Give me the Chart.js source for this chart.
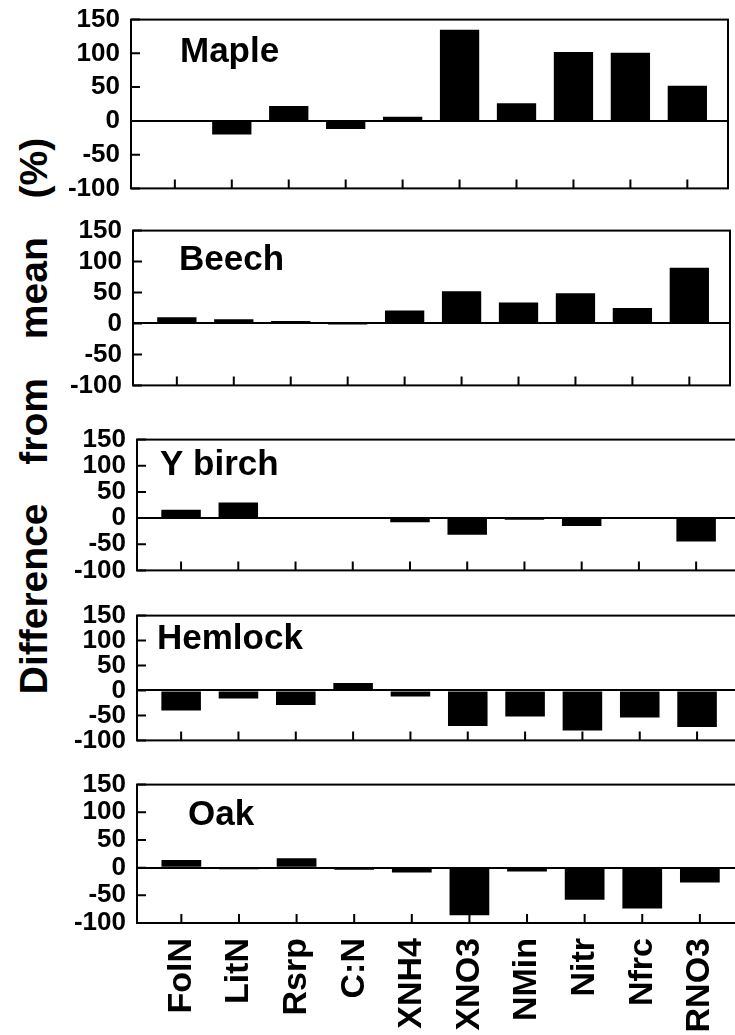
<!DOCTYPE html>
<html>
<head>
<meta charset="utf-8">
<title>Difference from mean (%)</title>
<script src="https://cdn.jsdelivr.net/npm/chart.js@4.4.1/dist/chart.umd.min.js"></script>
<style>
  html, body { margin: 0; padding: 0; background: #fff; }
  #figura { position: relative; width: 735px; height: 1035px; overflow: hidden; }
  #figura canvas { position: absolute; left: 0; }
  #titulo-y {
    position: absolute;
    left: 34px; top: 416px;
    transform: translate(-50%, -50%) rotate(-90deg);
    font: bold 39px "Liberation Sans", Arial, sans-serif;
    white-space: pre;
    word-spacing: 28px;
    color: #000;
  }
</style>
</head>
<body>
<div id="figura">
  <div id="titulo-y">Difference from mean (%)</div>
</div>
<script>
// valores (diferença em relação à média, %)
const categorias = ['FolN', 'LitN', 'Rsrp', 'C:N', 'XNH4', 'XNO3', 'NMin', 'Nitr', 'Nfrc', 'RNO3'];
const especies   = ['Maple', 'Beech', 'Y birch', 'Hemlock', 'Oak'];

const maple   = [0, -20, 22, -12, 6, 135, 26, 102, 101, 52];
const beech   = [10, 7, 4, -1, 21, 52, 34, 49, 25, 90];
const ybirch  = [16, 30, 2, 1, -8, -32, -3, -15, 0, -45];
const hemlock = [-40, -16, -29, 15, -12, -71, -52, -80, -54, -73];
const oak     = [14, -3, 17, -4, -9, -86, -7, -58, -74, -27];

const ticksY = [-100, -50, 0, 50, 100, 150];

const series = [maple, beech, ybirch, hemlock, oak];

// posição de cada painel na página (px); os três de baixo passam da borda direita
const paineis = [
  { topo: 17,  base: 209, esq: 131, larg: 597, nomeX: 180, nomeY: 62 },
  { topo: 228, base: 406, esq: 133, larg: 597, nomeX: 179, nomeY: 270 },
  { topo: 437, base: 591, esq: 137, larg: 600, nomeX: 160, nomeY: 475 },
  { topo: 613, base: 761, esq: 137, larg: 601, nomeX: 157, nomeY: 649 },
  { topo: 782, base: 923, esq: 137, larg: 604, nomeX: 188, nomeY: 825 },
];

const fonte = '"Liberation Sans", Arial, sans-serif';
const LARG_CANVAS = 760;
const MARGEM_TOPO = 24;

// caixa, marcas internas dos eixos e nome da espécie
const moldura = {
  id: 'moldura',
  afterDraw(chart, args, opts) {
    const { ctx, chartArea: a, scales: { x, y } } = chart;
    ctx.save();
    ctx.strokeStyle = '#000';
    ctx.lineWidth = 2;
    ctx.beginPath();
    x.ticks.forEach(t => {
      const px = x.getPixelForValue(t.value);
      ctx.moveTo(px, a.bottom);
      ctx.lineTo(px, a.bottom - 9);
    });
    y.ticks.forEach(t => {
      const py = y.getPixelForValue(t.value);
      ctx.moveTo(a.left, py);
      ctx.lineTo(a.left + 9, py);
    });
    ctx.stroke();
    ctx.strokeRect(a.left, a.top, a.right - a.left, a.bottom - a.top);

    ctx.fillStyle = '#000';
    ctx.font = 'bold 35px ' + fonte;
    ctx.textAlign = 'left';
    ctx.textBaseline = 'alphabetic';
    ctx.fillText(opts.nome, opts.nx, opts.ny);
    ctx.restore();
  },
};

function criarPainel(i) {
  const p = paineis[i];
  const ultimo = i === paineis.length - 1;
  const topoCanvas = p.topo - MARGEM_TOPO;
  const extraBase = ultimo ? 1035 - p.base : 6;
  const altura = (p.base - p.topo) + MARGEM_TOPO + extraBase;

  const canvas = document.createElement('canvas');
  canvas.width = LARG_CANVAS;
  canvas.height = altura;
  canvas.style.top = topoCanvas + 'px';
  canvas.style.width = LARG_CANVAS + 'px';
  canvas.style.height = altura + 'px';
  document.getElementById('figura').appendChild(canvas);

  new Chart(canvas.getContext('2d'), {
    type: 'bar',
    data: {
      datasets: [{
        label: especies[i],
        data: series[i].map((v, k) => ({ x: k, y: v })),
        backgroundColor: '#000',
        borderWidth: 0,
        categoryPercentage: 1,
        barPercentage: 0.69,
      }],
    },
    options: {
      responsive: false,
      animation: false,
      devicePixelRatio: 1,
      layout: {
        padding: {
          top: MARGEM_TOPO,
          bottom: ultimo ? 0 : extraBase,
          left: 0,
          right: LARG_CANVAS - p.esq - p.larg,
        },
      },
      plugins: {
        legend: { display: false },
        tooltip: { enabled: false },
        moldura: { nome: especies[i], nx: p.nomeX, ny: p.nomeY - topoCanvas },
      },
      scales: {
        x: {
          type: 'linear',
          offset: false,
          min: -0.77,
          max: 9.714,
          afterBuildTicks: (s) => { s.ticks = categorias.map((c, k) => ({ value: k })); },
          // o rótulo só aparece dentro da altura do eixo, por isso a altura fixa no último painel
          afterFit: (s) => { s.height = ultimo ? extraBase : 0; },
          grid: { display: false, drawTicks: false },
          border: { display: false },
          ticks: {
            display: ultimo,
            autoSkip: false,
            minRotation: 90,
            maxRotation: 90,
            padding: 15,
            color: '#000',
            font: { family: fonte, size: 34, weight: 'bold' },
            callback: (v) => categorias[v],
          },
        },
        y: {
          min: -100,
          max: 150,
          afterBuildTicks: (s) => { s.ticks = ticksY.map(v => ({ value: v })); },
          afterFit: (s) => { s.width = p.esq; },
          grid: {
            drawTicks: false,
            lineWidth: 2,
            color: (c) => (c.tick && c.tick.value === 0 ? '#000' : 'transparent'),
          },
          border: { display: false },
          ticks: {
            autoSkip: false,
            padding: 11,
            color: '#000',
            font: { family: fonte, size: 26, weight: 'bold' },
          },
        },
      },
    },
    plugins: [moldura],
  });
}

document.addEventListener('DOMContentLoaded', () => {
  paineis.forEach((p, i) => criarPainel(i));
});
</script>
</body>
</html>
